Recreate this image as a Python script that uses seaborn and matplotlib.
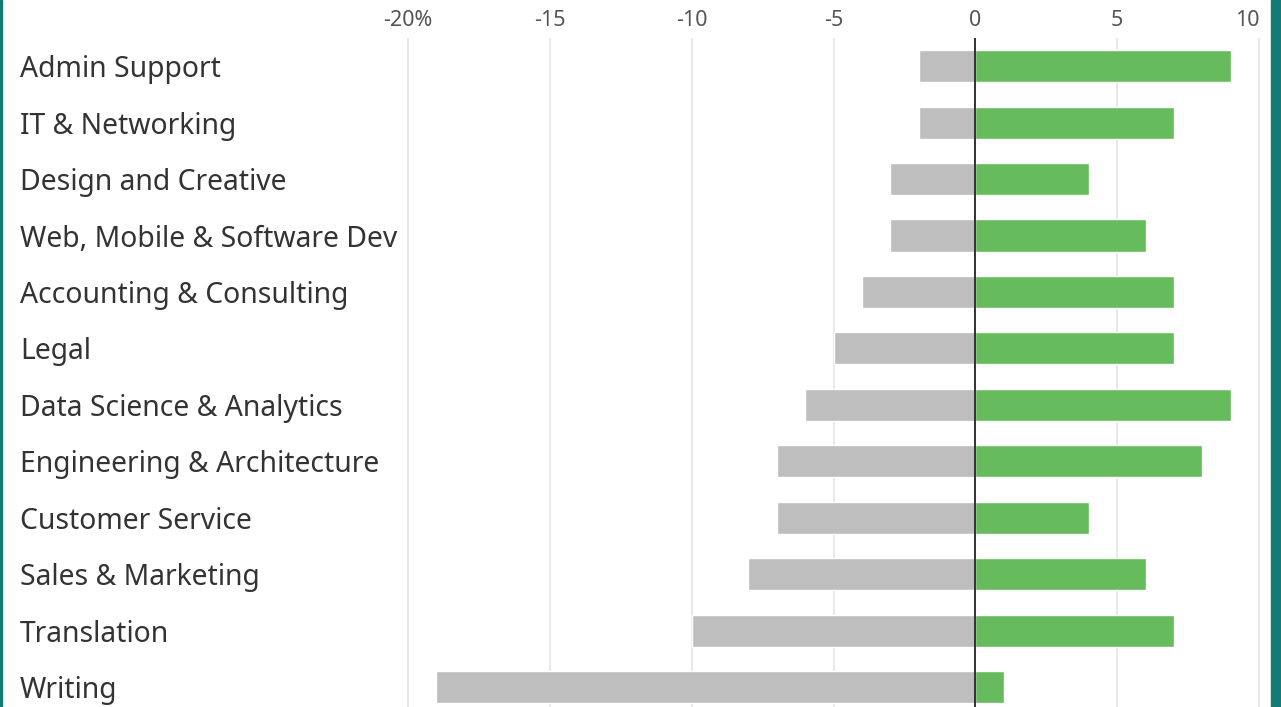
import matplotlib
matplotlib.use("Agg")
import matplotlib.pyplot as plt
import seaborn as sns
import pandas as pd
from matplotlib.patches import Rectangle

# Change by category, percent (gray = decline, green = growth)
categories = ["Admin Support", "IT & Networking", "Design and Creative",
              "Web, Mobile & Software Dev", "Accounting & Consulting", "Legal",
              "Data Science & Analytics", "Engineering & Architecture",
              "Customer Service", "Sales & Marketing", "Translation", "Writing"]
declines = [-2, -2, -3, -3, -4, -5, -6, -7, -7, -8, -10, -19]
gains = [9, 7, 4, 6, 7, 7, 9, 8, 4, 6, 7, 1]
tick_values = [-20, -15, -10, -5, 0, 5, 10]
tick_labels = ["-20%", "-15", "-10", "-5", "0", "5", "10"]

gray = "#bebebe"
green = "#66bb5c"
teal = "#137a74"

sns.set_theme(style="white")
plt.rcParams['font.family'] = ['Noto Sans', 'DejaVu Sans']

df = pd.DataFrame({"category": categories, "decline": declines, "gain": gains})

fig = plt.figure(figsize=(12.81, 7.07), dpi=100)
W, H = 1281, 707
x_left, x_right = 400.9, 1264.9
ax = fig.add_axes([x_left / W, 0, (x_right - x_left) / W, 1 - 38 / H])

sns.barplot(data=df, x="decline", y="category", order=categories, color=gray,
            width=0.57, orient="h", ax=ax, saturation=1)
sns.barplot(data=df, x="gain", y="category", order=categories, color=green,
            width=0.57, orient="h", ax=ax, saturation=1)

ax.set_xlim(-20.25, 10.2)
ax.set_ylim(11.354, -0.5)

for v in tick_values:
    if v == 0:
        ax.axvline(v, color="#222222", lw=1.3, zorder=5)
    else:
        ax.axvline(v, color="#e6e6e6", lw=1.3, zorder=0)

ax.xaxis.tick_top()
ax.set_xticks(tick_values)
ax.set_xticklabels(tick_labels)
ax.tick_params(axis="x", length=0, pad=5, labelsize=15.5, labelcolor="#555555")
ax.get_xticklabels()[-1].set_ha("right")
ax.set_yticks(range(len(categories)))
ax.set_yticklabels(categories, ha="left", va="center_baseline")
ax.tick_params(axis="y", length=0, pad=(x_left - 20) * 72 / 100, labelsize=20.4,
               labelcolor="#333333")
ax.set_xlabel("")
ax.set_ylabel("")
for s in ax.spines.values():
    s.set_visible(False)

# teal frame on the sides
fig.patches.append(Rectangle((0, 0), 2 / W, 1, transform=fig.transFigure,
                             color=teal, zorder=10))
fig.patches.append(Rectangle((1271 / W, 0), 10 / W, 1, transform=fig.transFigure,
                             color=teal, zorder=10))

fig.savefig("out.png", dpi=100)
